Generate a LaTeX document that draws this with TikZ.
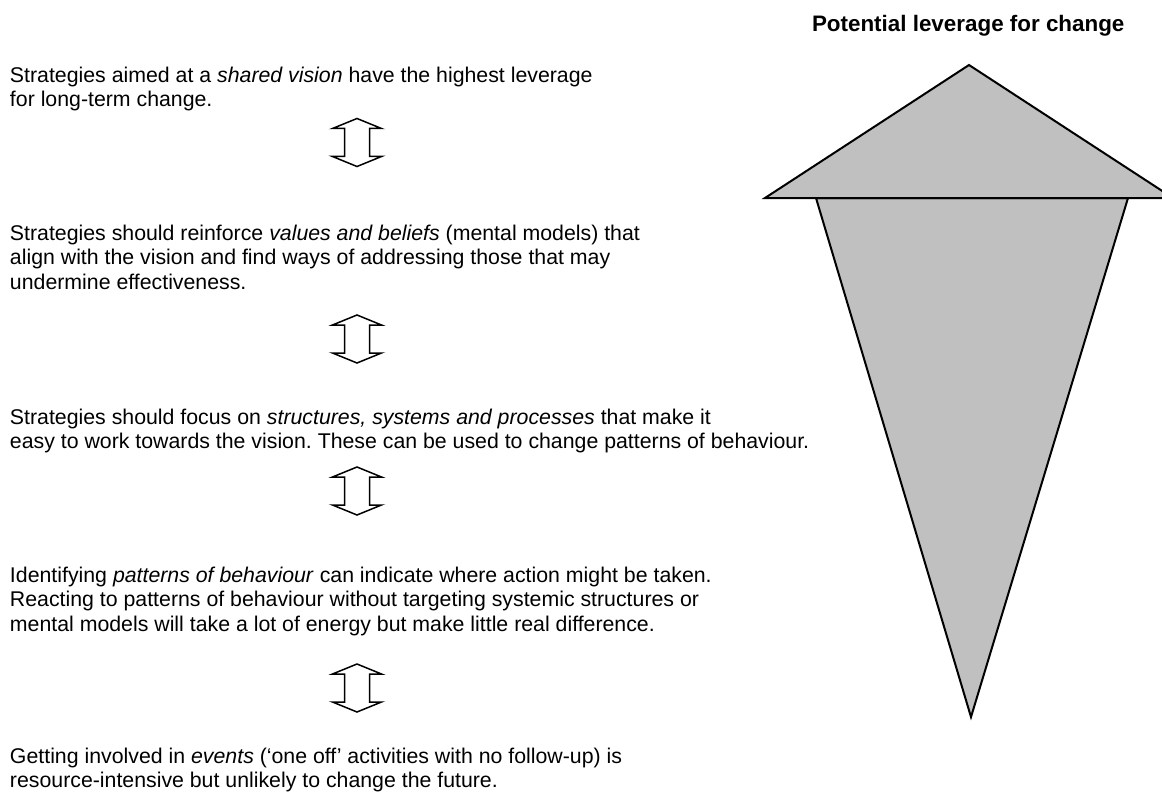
\documentclass[tikz,border=0pt]{standalone}
\usepackage{fontspec}
\setmainfont{Liberation Sans}
\definecolor{trigrey}{RGB}{192,192,192}
\frenchspacing
\begin{document}
\begin{tikzpicture}[x=0.5pt,y=-0.5pt,
  body/.style={anchor=north west, inner sep=0pt, outer sep=0pt, align=left,
    font=\fontsize{10.65pt}{12.25pt}\selectfont},
  heading/.style={anchor=base west, inner sep=0pt, outer sep=0pt,
    font=\fontsize{11.2pt}{13pt}\selectfont\bfseries},
  tri/.style={draw=black, fill=trigrey, line width=1pt, line join=miter},
  dbl/.style={draw=black, fill=white, line width=0.75pt, line join=miter},
  dblarrow/.pic={\draw[dbl] (0,-24) -- (24.5,-14) -- (12.5,-14) -- (12.5,14) -- (24.5,14)
      -- (0,24) -- (-24.5,14) -- (-12.5,14) -- (-12.5,-14) -- (-24.5,-14) -- cycle;}
]
\useasboundingbox (0,0) rectangle (1162,792);
\clip (0,0) rectangle (1162,792);

% leverage shape
\draw[tri] (816,198) -- (1128,198) -- (971,717) -- cycle;
\draw[tri] (765,198) -- (969,65) -- (1173,198) -- cycle;

\node[heading] (title) at (812,32) {Potential leverage for change};

% texts
\node[body] (t1) at (10,66.7) {Strategies aimed at a \textit{shared vision} have the highest leverage\\for long-term change.};
\node[body] (t2) at (10,224.7) {Strategies should reinforce \textit{values and beliefs} (mental models) that\\align with the vision and find ways of addressing those that may\\undermine effectiveness.};
\node[body] (t3) at (10,408.7) {Strategies should focus on \textit{structures, systems and processes} that make it\\easy to work towards the vision. These can be used to change patterns of behaviour.};
\node[body] (t4) at (10,566.7) {Identifying \textit{patterns of behaviour} can indicate where action might be taken.\\Reacting to patterns of behaviour without targeting systemic structures or\\mental models will take a lot of energy but make little real difference.};
\node[body] (t5) at (10,748) {Getting involved in \textit{events} (‘one off’ activities with no follow-up) is\\resource-intensive but unlikely to change the future.};

% double arrows
\pic (a1) at (357,142.5) {dblarrow};
\pic (a2) at (357,339) {dblarrow};
\pic (a3) at (357,491) {dblarrow};
\pic (a4) at (357,688) {dblarrow};
\end{tikzpicture}
\end{document}
